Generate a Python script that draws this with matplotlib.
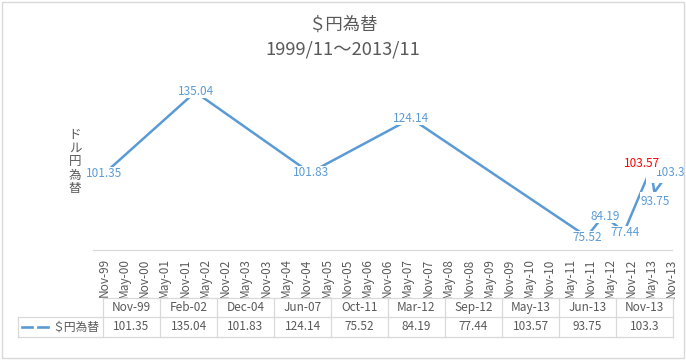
import datetime as dt
import matplotlib
matplotlib.use("Agg")
import matplotlib.pyplot as plt
import matplotlib.dates as mdates
from matplotlib.patches import Rectangle
from matplotlib.lines import Line2D
from matplotlib.path import Path

plt.rcParams['font.family'] = ['Noto Sans CJK JP', 'DejaVu Sans']

# ---------------- data ----------------
title = "＄円為替"
subtitle = "1999/11～2013/11"
ylabel = "ドル円為替"
series_name = "＄円為替"
dates = ["1999-11", "2002-02", "2004-12", "2007-06", "2011-10",
         "2012-03", "2012-09", "2013-05", "2013-06", "2013-11"]
table_labels = ["Nov-99", "Feb-02", "Dec-04", "Jun-07", "Oct-11",
                "Mar-12", "Sep-12", "May-13", "Jun-13", "Nov-13"]
values = [101.35, 135.04, 101.83, 124.14, 75.52, 84.19, 77.44, 103.57, 93.75, 103.3]
value_labels = ["101.35", "135.04", "101.83", "124.14", "75.52",
                "84.19", "77.44", "103.57", "93.75", "103.3"]
highlight_index = 7  # red label

# ---------------- style ----------------
BLUE = "#5B9BD5"
GRAY = "#595959"
GRID = "#D9D9D9"
W, H = 686, 360
# label offsets in pixels (dx right, dy up)
label_offsets = [(0, 0), (1, 1), (1, 0), (0, 0.5), (0, -1), (1.4, -0.5),
                 (1, -1), (-9, 4.5), (0.7, -9), (-1, -3)]
# white box paddings in pixels (left, right, bottom, top)
label_pads = [(3, 3, 0, 0)] * 7 + [(1, 1, 0, 0), (0, 3, 0, 3), (10, 3, 4, 1)]
label_z = [3, 3, 3, 3, 3, 3, 3, 6, 4, 5]


def make_box(pads):
    l, r, b, t = pads

    def box(x0, y0, width, height, mutation_size):
        xa, ya = x0 - l, y0 - b
        xb, yb = x0 + width + r, y0 + height + t
        return Path([(xa, ya), (xb, ya), (xb, yb), (xa, yb), (xa, ya)],
                    closed=True)
    return box


def fx(px):
    return px / W


def fy(py):
    return 1 - py / H


x = [dt.datetime(int(d[:4]), int(d[5:]), 1) for d in dates]

fig = plt.figure(figsize=(W / 100, H / 100), dpi=100)
fig.patch.set_facecolor("white")

ax = fig.add_axes([fx(93), fy(250), 579 / W, 170 / H])
ax.set_xlim(dt.datetime(1999, 7, 25), dt.datetime(2013, 11, 7))
ax.set_ylim(70, 140)
ax.plot(x, values, color=BLUE, lw=1.8, solid_capstyle="round", zorder=2)

for s in ["top", "left", "right"]:
    ax.spines[s].set_visible(False)
ax.spines["bottom"].set_color(GRID)
ax.spines["bottom"].set_linewidth(0.9)
ax.yaxis.set_visible(False)
ax.xaxis.set_major_locator(mdates.MonthLocator(bymonth=[5, 11]))
ax.xaxis.set_major_formatter(mdates.DateFormatter("%b-%y"))
ax.tick_params(axis="x", length=0, pad=6, labelsize=8.5, labelcolor=GRAY,
               labelrotation=90)

for i, (xi, v) in enumerate(zip(x, values)):
    dx, dy = label_offsets[i]
    col = "#FF0000" if i == highlight_index else BLUE
    ax.annotate(value_labels[i], (xi, v), xytext=(dx * 0.72, dy * 0.72),
                textcoords="offset points", ha="center", va="center",
                fontsize=8.5, color=col, zorder=label_z[i],
                bbox=dict(boxstyle=make_box(label_pads[i]), fc="white",
                          ec="none"))

# titles
fig.text(fx(343), fy(25), title, ha="center", va="center", fontsize=12.5, color=GRAY)
fig.text(fx(343), fy(50), subtitle, ha="center", va="center", fontsize=13.2, color=GRAY)

# y label, stacked
fig.text(fx(75), fy(162), "\n".join(ylabel), ha="center", va="center",
         fontsize=9, color=GRAY, linespacing=1.05)

# data table
t_left, t_x0, col_w = 18, 103, 57
ncol = len(table_labels)
t_x1 = t_x0 + col_w * ncol
y_top, y_mid, y_bot = 298, 317, 337


def hline(y, x0, x1):
    fig.add_artist(Line2D([fx(x0), fx(x1)], [fy(y), fy(y)], color=GRID, lw=0.9))


def vline(xp, y0, y1):
    fig.add_artist(Line2D([fx(xp), fx(xp)], [fy(y0), fy(y1)], color=GRID, lw=0.9))


hline(y_top, t_x0, t_x1)
hline(y_mid, t_left, t_x1)
hline(y_bot, t_left, t_x1)
vline(t_left, y_mid, y_bot)
for k in range(ncol + 1):
    vline(t_x0 + k * col_w, y_top, y_bot)

for k in range(ncol):
    cx = t_x0 + (k + 0.5) * col_w
    fig.text(fx(cx), fy((y_top + y_mid) / 2), table_labels[k], ha="center",
             va="center", fontsize=8.5, color=GRAY)
    fig.text(fx(cx), fy((y_mid + y_bot) / 2), value_labels[k], ha="center",
             va="center", fontsize=8.5, color=GRAY)

# legend key in table
ky = (y_mid + y_bot) / 2
for a, b in [(22, 32), (38, 48)]:
    fig.add_artist(Line2D([fx(a), fx(b)], [fy(ky), fy(ky)], color=BLUE, lw=1.9))
fig.text(fx(52), fy(ky), series_name, ha="left", va="center", fontsize=8.5, color=GRAY)

# chart border
fig.add_artist(Rectangle((fx(2), fy(358)), (682) / W, 356 / H, fill=False,
                         ec=GRID, lw=1.0, transform=fig.transFigure))

fig.savefig("out.png", dpi=100, facecolor="white")
